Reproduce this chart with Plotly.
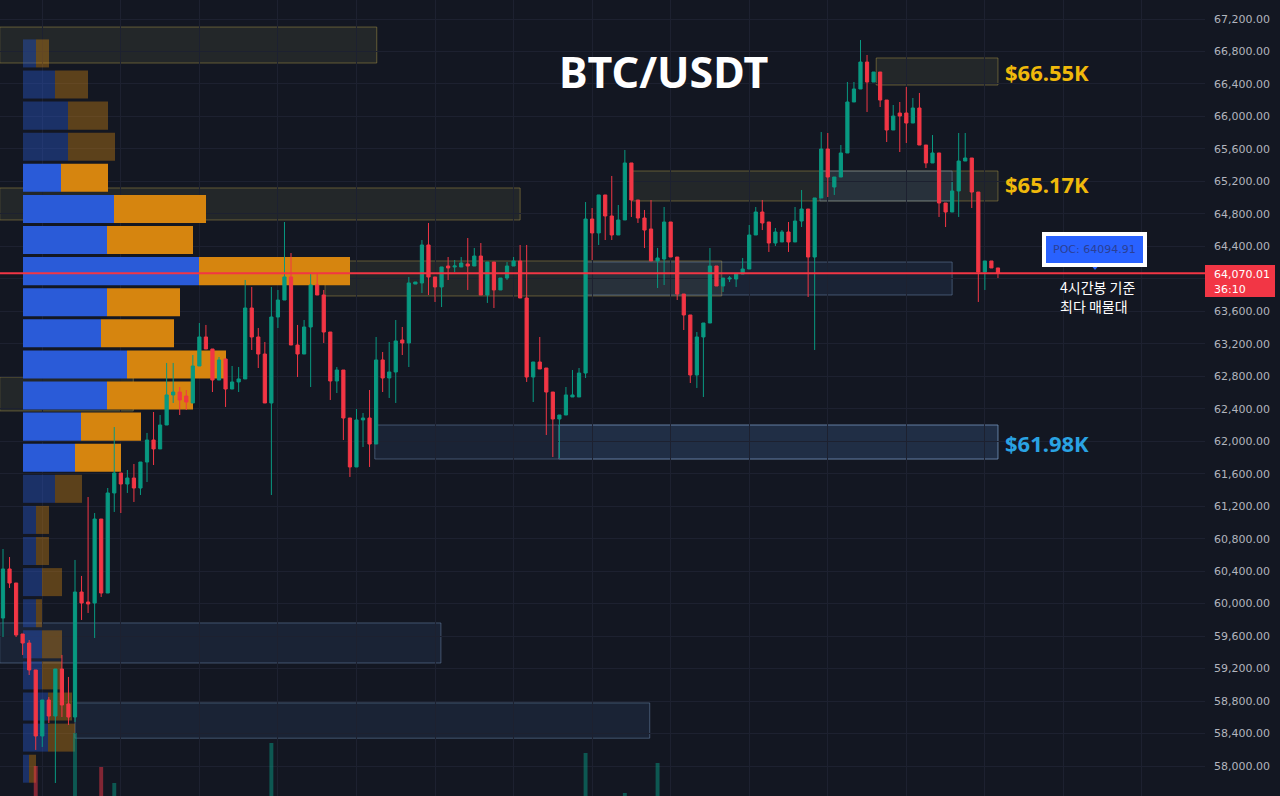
import plotly.graph_objects as go

# ---------------- data ----------------
open_ = [59823,60427,60254,59626,59515,59183,58370,58813,58616,59195,58764,58604,60143,60020,60008,61042,60131,61363,61609,61473,
         61547,61424,61744,62015,61905,62200,62570,62606,62557,62471,62927,63284,63136,62754,63013,62643,62730,62767,63641,63284,
         63074,62471,63530,63739,64023,63185,63074,63407,63924,63801,63345,62742,62877,62286,61683,62262,62286,61966,63001,62779,
         62853,63247,63210,63936,63949,64417,64023,63900,64158,64146,64146,64183,64158,64281,63801,64207,63863,64010,64158,64220,
         63764,62791,62976,62902,62606,62274,62323,62545,62545,62840,64737,64565,65033,64774,64540,64725,65427,64971,64749,64614,
         64220,64244,64700,64269,63813,63555,62816,63284,63456,64158,63912,63998,63998,64060,64121,64540,64823,64700,64441,64454,
         64577,64454,64712,64860,64269,64996,65599,65131,65254,65550,66178,66338,66670,66424,66547,66202,65833,66042,66042,65919,
         66104,65648,65427,65550,64934,64823,65082,65451,65488,65069,64084,64220,64134]
high = [60673,60574,60254,59626,59552,59183,58813,58850,59195,59368,59097,60538,60341,61313,61116,61042,61424,62175,61609,61646,
        61720,61744,62102,62360,62323,62964,62964,62668,62631,63062,63456,63432,63136,63037,63013,62927,62914,63986,63900,63395,
        63222,63900,63863,64700,64318,63432,63493,64072,64072,63863,63345,62914,62877,62286,62397,62348,62631,63284,63099,63222,
        63493,63407,64023,63961,64478,64688,64023,64146,64269,64232,64269,64503,64380,64441,64207,64207,64010,64207,64269,64417,
        64417,62976,63284,62902,62606,62323,62668,62877,62902,64946,64872,65033,65033,65267,64909,65587,65427,64971,64848,64971,
        64380,64885,64700,64269,63813,63555,63345,63456,64380,64158,64010,64035,64060,64257,64663,64885,64971,64700,64626,64601,
        64700,64885,65094,64860,64996,65808,65796,65254,65648,66424,66424,66941,66757,66547,66547,66202,66141,66178,66363,66227,
        66289,65648,65771,65550,64934,65193,65796,65796,65488,65069,64220,64220,64134]
low = [59589,60193,59589,59368,59121,58198,58235,58530,57791,58604,58506,58543,59799,59885,59577,60082,60131,61129,61116,61363,
       61252,61338,61498,61707,61905,62200,62471,62323,62385,62471,62927,63136,62606,62754,62422,62643,62606,62767,63124,62902,
       62471,61338,63395,63739,63185,62791,63074,62668,63801,63210,62508,62594,62015,61560,61683,61929,61683,61966,62606,62533,
       62471,63062,62914,63936,63826,63801,63715,63653,63986,64084,64146,63863,64158,63801,63703,63641,63863,63986,64158,63764,
       62730,62483,62890,62077,61806,61794,62323,62545,62545,62779,64232,64417,64478,64478,64540,64725,64762,64688,64380,64220,
       63887,63924,64269,63739,63370,62717,62656,62545,63456,63912,63838,63961,63900,64060,64121,64540,64601,64331,64404,64454,
       64331,64454,64638,63776,63124,64996,65008,65033,65254,65550,66178,66338,66055,66424,66116,65685,65833,65562,65673,65919,
       65648,65365,65427,64762,64638,64823,64762,65451,64872,63715,63863,64134,64010]
close = [60427,60254,59614,59515,59183,58370,58813,58616,59195,58752,58604,60143,60008,59996,61042,60131,61363,61609,61473,61547,
         61424,61744,62015,61905,62200,62570,62606,62508,62483,62927,63284,63136,62754,63001,62643,62730,62767,63641,63284,63074,
         62471,63530,63739,64023,63185,63074,63407,63924,63801,63345,62742,62877,62286,61683,62262,62286,61966,63001,62779,62853,
         63235,63210,63949,63961,64417,64023,63900,64146,64134,64158,64195,64158,64281,63801,64207,63863,64010,64158,64220,63764,
         62791,62976,62890,62606,62274,62323,62570,62570,62840,64737,64565,65033,64774,64540,64725,65427,64971,64749,64601,64220,
         64257,64700,64269,63813,63555,62816,63284,63456,64158,63912,64010,64010,64060,64121,64540,64823,64688,64441,64577,64577,
         64454,64712,64860,64269,64996,65599,65254,65254,65550,66178,66338,66670,66424,66547,66202,65833,66005,66005,65919,66104,
         65648,65427,65550,64934,64823,65082,65451,65488,65069,64084,64220,64134,64070.01]

# visible volume bars (candle index -> volume)
vol_idx = [5, 11, 15, 17, 41, 89, 95, 100]
vol_vals = [300, 630, 290, 130, 530, 430, 30, 330]

# volume profile (row price centre, buy volume, sell volume, in value area?)
vp_levels = [66776,66393,66010,65627,65244,64861,64478,64095,63712,63329,62946,62563,62180,61797,61414,61031,
             60648,60265,59882,59499,59116,58733,58350,57967]
vp_buy = [13,32,45,45,38,91,84,176,84,78,104,84,58,52,32,13,13,19,13,19,19,25,25,6]
vp_sell = [13,33,40,47,47,92,86,151,73,73,99,86,60,46,27,13,13,20,6,20,20,24,27,7]
vp_in_va = [0,0,0,0,1,1,1,1,1,1,1,1,1,1,0,0,0,0,0,0,0,0,0,0]

# zones: (start candle, end candle, top price, bottom price, kind)
zones = [
    (-0.5, 57.1, 67101, 66658, "olive"),
    (-0.5, 79.0, 65119, 64725, "olive"),
    (-0.5, 19.9, 62791, 62373, "olive"),
    (49.2, 109.8, 64220, 63789, "olive"),
    (88.9, 145.0, 64207, 63801, "blue"),
    (96.1, 152.0, 65328, 64959, "olive"),
    (124.8, 145.0, 65328, 64959, "blue"),
    (133.4, 152.0, 66720, 66387, "olive"),
    (56.8, 152.0, 62200, 61781, "blue"),
    (84.9, 152.0, 62200, 61781, "blue"),
    (-0.5, 66.9, 59762, 59269, "blue"),
    (11.0, 98.8, 58777, 58343, "blue"),
]
zone_labels = [(66550, "$66.55K", "#f0b90b"), (65170, "$65.17K", "#f0b90b"), (61980, "$61.98K", "#2aa3e3")]

last_price = 64070.01
poc_price = 64094.91
y_ticks = list(range(57600, 67201, 400))

# ---------------- style ----------------
BG = "#131722"
GRID = "#1d2130"
UP = "#089981"
DN = "#f23645"
W, H = 1280, 796
MR = 75
PW = W - MR

def px_x(p):
    return p / PW

def px_y(p):
    return 1 - p / H

fig = go.Figure()

buy_col = ["#2a5bd8" if v else "rgba(42,91,216,0.38)" for v in vp_in_va]
sell_col = ["#d6850f" if v else "rgba(214,133,15,0.38)" for v in vp_in_va]
fig.add_trace(go.Bar(x=vp_buy, y=vp_levels, orientation="h", width=345,
                     marker=dict(color=buy_col, line=dict(width=0)),
                     xaxis="x", yaxis="y", hoverinfo="skip", showlegend=False))
fig.add_trace(go.Bar(x=vp_sell, y=vp_levels, base=vp_buy, orientation="h", width=345,
                     marker=dict(color=sell_col, line=dict(width=0)),
                     xaxis="x", yaxis="y", hoverinfo="skip", showlegend=False))

vcol = ["rgba(8,153,129,0.5)" if close[i] >= open_[i] else "rgba(242,54,69,0.5)" for i in vol_idx]
fig.add_trace(go.Bar(x=vol_idx, y=vol_vals, width=0.6, marker=dict(color=vcol, line=dict(width=0)),
                     xaxis="x2", yaxis="y2", hoverinfo="skip", showlegend=False))

fig.add_trace(go.Candlestick(
    x=list(range(len(open_))), open=open_, high=high, low=low, close=close,
    increasing=dict(line=dict(color=UP, width=1), fillcolor=UP),
    decreasing=dict(line=dict(color=DN, width=1), fillcolor=DN),
    whiskerwidth=0, xaxis="x2", yaxis="y", showlegend=False, hoverinfo="skip"))

shapes = []
for x0, x1, top, bot, kind in zones:
    if kind == "olive":
        fc, lc = "rgba(150,145,95,0.13)", "rgba(170,150,70,0.5)"
    else:
        fc, lc = "rgba(70,110,170,0.14)", "rgba(120,150,190,0.45)"
    shapes.append(dict(type="rect", xref="x2", yref="y", x0=x0, x1=x1, y0=bot, y1=top,
                       fillcolor=fc, line=dict(color=lc, width=1), layer="below"))
shapes.append(dict(type="line", xref="paper", yref="y", x0=0, x1=1, y0=last_price, y1=last_price,
                   line=dict(color=DN, width=2), layer="above"))
# price tag on the axis
shapes.append(dict(type="rect", xref="paper", yref="paper", x0=1.0, x1=px_x(1275), y0=px_y(297), y1=px_y(265),
                   fillcolor=DN, line=dict(width=0), layer="above"))
# POC pointer
shapes.append(dict(type="path", xref="paper", yref="paper",
                   path=f"M {px_x(1090)},{px_y(264)} L {px_x(1100)},{px_y(264)} L {px_x(1095)},{px_y(270)} Z",
                   fillcolor="#2962ff", line=dict(width=0), layer="above"))

annotations = [
    dict(xref="paper", yref="paper", x=px_x(663), y=px_y(72), text="<b>BTC/USDT</b>", showarrow=False,
         font=dict(family="Noto Sans", size=43, color="#ffffff"), xanchor="center", yanchor="middle"),
    dict(xref="paper", yref="paper", x=px_x(1094.5), y=px_y(249.5), text=f"POC: {poc_price}", showarrow=False,
         font=dict(family="DejaVu Sans", size=11, color="#2b3f94"), bgcolor="#2962ff",
         bordercolor="#ffffff", borderwidth=4, borderpad=7, xanchor="center", yanchor="middle"),
    dict(xref="paper", yref="paper", x=px_x(1058), y=px_y(287), text="4시간봉 기준", showarrow=False,
         font=dict(family="Noto Sans CJK KR", size=14, color="#ffffff"), xanchor="left", yanchor="middle"),
    dict(xref="paper", yref="paper", x=px_x(1058), y=px_y(306), text="최다 매물대", showarrow=False,
         font=dict(family="Noto Sans CJK KR", size=14, color="#ffffff"), xanchor="left", yanchor="middle"),
    dict(xref="paper", yref="paper", x=px_x(1212), y=px_y(274), text=f"{last_price:,.2f}", showarrow=False,
         font=dict(family="DejaVu Sans", size=11, color="#ffffff"), xanchor="left", yanchor="middle"),
    dict(xref="paper", yref="paper", x=px_x(1212), y=px_y(289), text="36:10", showarrow=False,
         font=dict(family="DejaVu Sans", size=11, color="#ffffff"), xanchor="left", yanchor="middle"),
]
for price, txt, col in zone_labels:
    annotations.append(dict(xref="x2", yref="y", x=152.7, y=price, text=f"<b>{txt}</b>", showarrow=False,
                            font=dict(family="Noto Sans", size=22, color=col), xanchor="left", yanchor="middle"))

tick_text = ["" if abs(v - last_price) < 160 else f"{v:,.2f}" for v in y_ticks]

fig.update_layout(
    width=W, height=H, margin=dict(l=0, r=MR, t=0, b=0),
    paper_bgcolor=BG, plot_bgcolor=BG, barmode="overlay", showlegend=False,
    xaxis=dict(domain=[0, 1], range=[-23, 1182], visible=False, fixedrange=True),
    xaxis2=dict(overlaying="x", range=[-0.458, 183.63], tickvals=list(range(6, 184, 12)),
                showticklabels=False, showgrid=True, gridcolor=GRID, gridwidth=1, zeroline=False,
                ticks="", showline=False, rangeslider=dict(visible=False)),
    yaxis=dict(side="right", range=[57631, 67434], tickvals=y_ticks, ticktext=tick_text,
               showgrid=True, gridcolor=GRID, gridwidth=1, zeroline=False, ticks="", showline=False,
               tickfont=dict(family="DejaVu Sans", size=11, color="#b2b5be"), ticklabelstandoff=8),
    yaxis2=dict(overlaying="y", range=[0, 7960], visible=False),
    shapes=shapes, annotations=annotations,
)

fig.write_html("out.html")
